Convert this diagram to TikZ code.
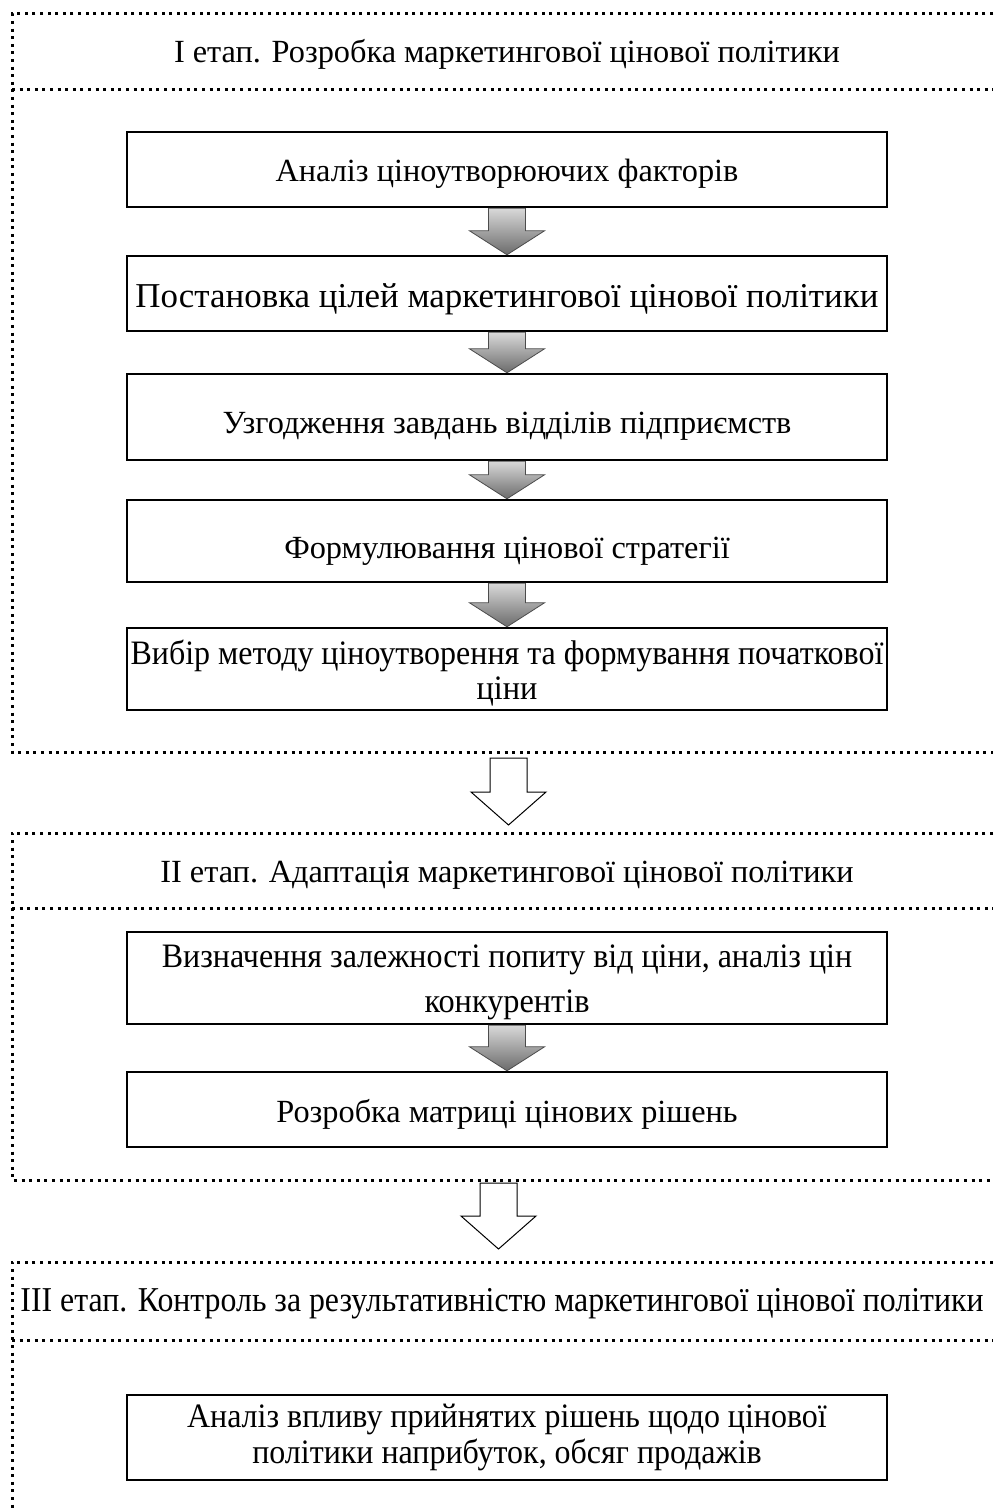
\documentclass[tikz,border=0pt]{standalone}
\usepackage{fontspec}
\setmainfont{Liberation Serif}
\usetikzlibrary{calc}
\tikzset{
  frameline/.style={line width=3pt, dash pattern=on 3pt off 4.6pt},
  box/.style={draw, line width=2.4pt, minimum width=760pt, inner sep=0pt},
  txt/.style={inner sep=0pt, align=center, font=\fontsize{32.3}{36}\selectfont},
  hdr/.style={inner sep=0pt, font=\fontsize{32.3}{36}\selectfont},
  garrow/.style={draw=black!70, line width=0.8pt, top color=black!15, bottom color=black!58},
  warrow/.style={draw=black, line width=1pt, fill=white},
}
\newcommand\flowarrow[6]{% from, to, style, shaft half, head half, head length
  \draw[#3] let \p1=(#1), \p2=(#2) in
    (\x2-#4pt,\y1) -- (\x2+#4pt,\y1) -- (\x2+#4pt,\y2+#6pt) -- (\x2+#5pt,\y2+#6pt)
    -- (\x2,\y2) -- (\x2-#5pt,\y2+#6pt) -- (\x2-#4pt,\y2+#6pt) -- cycle;}
\begin{document}
\begin{tikzpicture}[x=1pt,y=-1pt]
\useasboundingbox (0,0) rectangle (993,1511);
% frame 1
\draw[frameline] (993,14) -- (12,14) -- (12,752) -- (993,752);
\draw[frameline] (12,90) -- (993,90);
\node[hdr] (h1) at (507,54) {I етап. Розробка маркетингової цінової політики};
% frame 2
\draw[frameline] (993,833) -- (12,833) -- (12,1180) -- (993,1180);
\draw[frameline] (12,908) -- (993,908);
\node[hdr] (h2) at (507,875) {II етап. Адаптація маркетингової цінової політики};
% frame 3
\draw[frameline] (993,1262) -- (12,1262) -- (12,1511);
\draw[frameline] (12,1340) -- (993,1340);
\node[hdr] (h3) at (502,1304) {\scalebox{0.985}[1.08]{III етап. Контроль за результативністю маркетингової цінової політики}};

% boxes
\node[box, minimum height=75pt] (b1) at (507,169.5) {};
\node[txt] (t1) at (507,173.5) {Аналіз ціноутворюючих факторів};
\node[box, minimum height=75pt] (b2) at (507,293.5) {};
\node[txt, font=\fontsize{34.9}{38}\selectfont] (t2) at (507,299.5) {Постановка цілей маркетингової цінової політики};
\node[box, minimum height=86pt] (b3) at (507,417) {};
\node[txt] (t3) at (507,426) {Узгодження завдань відділів підприємств};
\node[box, minimum height=82pt] (b4) at (507,541) {};
\node[txt] (t4) at (507,551) {Формулювання цінової стратегії};
\node[box, minimum height=82pt] (b5) at (507,669) {};
\node[txt] (t5) at (507,673) {\scalebox{0.99}[1.06]{Вибір методу ціноутворення та формування початкової}\\[-1pt]\scalebox{1}[1.06]{ціни}};
\node[box, minimum height=92pt] (b6) at (507,978) {};
\node[txt] (t6) at (507,982) {\scalebox{0.99}[1.06]{Визначення залежності попиту від ціни, аналіз цін}\\[9pt]\scalebox{1}[1.06]{конкурентів}};
\node[box, minimum height=75pt] (b7) at (507,1109.5) {};
\node[txt] (t7) at (507,1114) {Розробка матриці цінових рішень};
\node[box, minimum height=85pt] (b8) at (507,1437.5) {};
\node[txt] (t8) at (507,1437.5) {\scalebox{0.99}[1.06]{Аналіз впливу прийнятих рішень щодо цінової}\\\scalebox{0.99}[1.06]{політики наприбуток, обсяг продажів}};

% gray arrows
\flowarrow{b1.south}{b2.north}{garrow}{18.5}{37.5}{24}
\flowarrow{b2.south}{b3.north}{garrow}{18.5}{37.5}{24}
\flowarrow{b3.south}{b4.north}{garrow}{18.5}{37.5}{24}
\flowarrow{b4.south}{b5.north}{garrow}{18.5}{37.5}{24}
\flowarrow{b6.south}{b7.north}{garrow}{18.5}{37.5}{24}

% white arrows between stages
\coordinate (f1end) at (508.5,758);
\coordinate (f2start) at (508.5,825);
\flowarrow{f1end}{f2start}{warrow}{18.5}{37.5}{33}
\coordinate (f2end) at (498.5,1183);
\coordinate (f3start) at (498.5,1249);
\flowarrow{f2end}{f3start}{warrow}{18.5}{37.5}{33}
\end{tikzpicture}
\end{document}
